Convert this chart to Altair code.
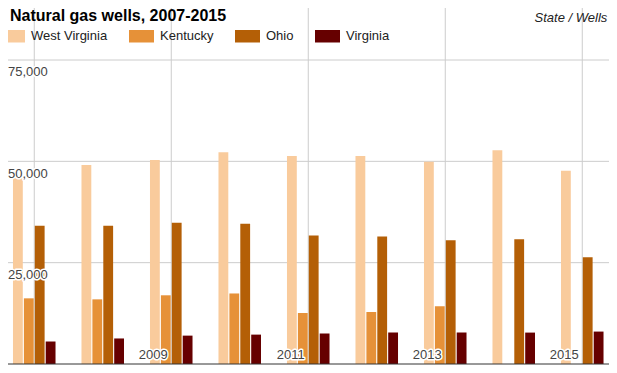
import altair as alt
import pandas as pd

TITLE = "Natural gas wells, 2007-2015"
SUBTITLE = "State / Wells"
YEARS = ["2007", "2008", "2009", "2010", "2011", "2012", "2013", "2014", "2015"]
STATES = ["West Virginia", "Kentucky", "Ohio", "Virginia"]
COLORS = ["#f9cb9c", "#e69138", "#b45f06", "#660000"]
WEST_VIRGINIA = [46000, 49100, 50300, 52250, 51300, 51300, 49900, 52750, 47650]
KENTUCKY = [16200, 15950, 16950, 17400, 12600, 12800, 14250, None, None]
OHIO = [34100, 34100, 34850, 34600, 31700, 31450, 30500, 30750, 26350]
VIRGINIA = [5550, 6300, 7000, 7250, 7500, 7750, 7750, 7750, 8000]
Y_TICKS = [25000, 50000, 75000]
X_LABELS = ["2009", "2011", "2013", "2015"]
GRID_YEARS = ["2007", "2009", "2011", "2013", "2015"]

rows = []
for state, vals in zip(STATES, [WEST_VIRGINIA, KENTUCKY, OHIO, VIRGINIA]):
    for yr, v in zip(YEARS, vals):
        if v is not None:
            rows.append({"year": yr, "state": state, "wells": v})
df = pd.DataFrame(rows)

FONT = "Liberation Sans"
W, H = 601, 357
x_scale = alt.Scale(domain=YEARS, range=[-8, 608.5], paddingInner=0, paddingOuter=0)
y_scale = alt.Scale(domain=[0, 75000], range=[356, 52])
# empty slots at each side of a year group keep the bars narrow
offset_domain = ["_left"] + STATES + ["_right"]

hgrid = alt.Chart(pd.DataFrame({"v": Y_TICKS})).mark_rule(color="#cccccc", strokeWidth=1).encode(
    y=alt.Y("v:Q", scale=y_scale, axis=None)
)

vgrid = alt.Chart(pd.DataFrame({"year": GRID_YEARS})).mark_rule(color="#cccccc", strokeWidth=1).encode(
    x=alt.X("year:N", scale=x_scale, axis=None),
    y=alt.Y(datum=0, type="quantitative", scale=y_scale, axis=None),
    y2=alt.value(0),
)

bars = alt.Chart(df).mark_bar().encode(
    x=alt.X("year:N", scale=x_scale, axis=None),
    xOffset=alt.XOffset("state:N", scale=alt.Scale(domain=offset_domain, paddingInner=0.1, paddingOuter=0.19)),
    y=alt.Y("wells:Q", scale=y_scale, axis=None),
    color=alt.Color(
        "state:N",
        scale=alt.Scale(domain=STATES, range=COLORS),
        legend=alt.Legend(
            title=None,
            orient="none",
            legendX=-8,
            legendY=15.5,
            direction="horizontal",
            symbolType="M-1,-0.5H1V0.5H-1Z",
            symbolSize=625,
            symbolStrokeWidth=0,
            symbolOpacity=1,
            labelFont=FONT,
            labelFontSize=13,
            labelColor="#222222",
            labelOffset=6,
            columnPadding=21,
        ),
    ),
)

baseline = alt.Chart(pd.DataFrame({"v": [0]})).mark_rule(color="#333333", strokeWidth=1).encode(
    y=alt.Y("v:Q", scale=y_scale, axis=None)
)

ytick_df = pd.DataFrame({"v": Y_TICKS})
ylab_kw = dict(align="left", baseline="alphabetic", dy=16.3, fontSize=13, font=FONT)
ylab_enc = dict(
    x=alt.value(0),
    y=alt.Y("v:Q", scale=y_scale, axis=None),
    text=alt.Text("v:Q", format=","),
)
ylab_halo = alt.Chart(ytick_df).mark_text(stroke="white", strokeWidth=3, strokeJoin="round", color="white", **ylab_kw).encode(**ylab_enc)
ylab = alt.Chart(ytick_df).mark_text(color="#444444", **ylab_kw).encode(**ylab_enc)

xlab_df = pd.DataFrame({"year": X_LABELS})
xlab_kw = dict(align="right", baseline="alphabetic", dx=-3.5, dy=-4.7, fontSize=13, font=FONT)
xlab_enc = dict(
    x=alt.X("year:N", scale=x_scale, axis=None),
    y=alt.Y(datum=0, type="quantitative", scale=y_scale, axis=None),
    text="year:N",
)
xlab_halo = alt.Chart(xlab_df).mark_text(stroke="white", strokeWidth=3, strokeJoin="round", color="white", **xlab_kw).encode(**xlab_enc)
xlab = alt.Chart(xlab_df).mark_text(color="#444444", **xlab_kw).encode(**xlab_enc)

title = alt.Chart(pd.DataFrame({"t": [TITLE]})).mark_text(
    align="left", baseline="alphabetic", fontSize=16, fontWeight="bold", font=FONT, color="#000000"
).encode(x=alt.value(2), y=alt.value(13), text="t:N")

subtitle = alt.Chart(pd.DataFrame({"t": [SUBTITLE]})).mark_text(
    align="right", baseline="alphabetic", fontSize=13, fontStyle="italic", font=FONT, color="#222222"
).encode(x=alt.value(599.3), y=alt.value(13.5), text="t:N")

chart = alt.layer(
    hgrid, vgrid, bars, baseline, ylab_halo, ylab, xlab_halo, xlab, title, subtitle
).properties(
    width=W,
    height=H,
    padding=0,
    autosize=alt.AutoSizeParams(type="none"),
).configure_view(stroke=None)

chart.save("out.html", embed_options={"renderer": "svg", "actions": False})
